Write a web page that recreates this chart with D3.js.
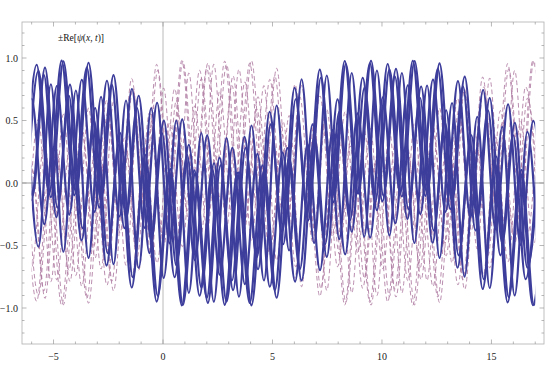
<!DOCTYPE html>
<html><head><meta charset="utf-8">
<script src="https://cdn.jsdelivr.net/npm/d3@7"></script>
<style>body{margin:0;background:#fff}svg{display:block}</style>
</head><body><svg id="c" width="545" height="381"></svg>
<script>
const xMajorTicks = [-5, 0, 5, 10, 15];
const xTickLabels = ["\u22125", "0", "5", "10", "15"];
const yMajorTicks = [-1.0, -0.5, 0.0, 0.5, 1.0];
const yTickLabels = ["\u22121.0", "\u22120.5", "0.0", "0.5", "1.0"];
const plotLabel = "Re";

// Solid (+Re) curves: x of each successive peak / trough, and its value
const xA = [-6.34,-5.77,-5.2,-4.63,-4.05,-3.48,-2.91,-2.34,-1.76,-1.19,-0.62,-0.05,0.53,1.1,1.67,2.25,2.82,3.39,3.96,4.54,5.11,5.68,6.25,6.83,7.4,7.97,8.54,9.12,9.69,10.26,10.83,11.41,11.98,12.55,13.12,13.7,14.27,14.84,15.41,15.99,16.56,17.13];
const yA = [-0.163,0.946,-0.086,0.979,-0.098,0.923,-0.197,0.787,-0.362,0.600,-0.561,0.399,-0.754,0.224,-0.902,0.111,-0.975,0.081,-0.959,0.142,-0.857,0.280,-0.690,0.469,-0.490,0.670,-0.298,0.842,-0.153,0.952,-0.084,0.978,-0.103,0.913,-0.209,0.772,-0.380,0.582,-0.579,0.382,-0.769,0.212];
const xF = [-6.26,-5.69,-5.12,-4.55,-3.97,-3.4,-2.83,-2.26,-1.68,-1.11,-0.54,0.04,0.61,1.18,1.75,2.33,2.9,3.47,4.04,4.62,5.19,5.76,6.33,6.91,7.48,8.05,8.62,9.2,9.77,10.34,10.91,11.49,12.06,12.63,13.2,13.78,14.35,14.92,15.49,16.07,16.64,17.21];
const yF = [-0.231,0.897,-0.114,0.974,-0.081,0.962,-0.137,0.863,-0.273,0.698,-0.460,0.499,-0.661,0.306,-0.836,0.158,-0.949,0.085,-0.979,0.101,-0.918,0.203,-0.780,0.370,-0.591,0.570,-0.390,0.762,-0.218,0.907,-0.108,0.976,-0.082,0.957,-0.147,0.851,-0.288,0.680,-0.478,0.481,-0.678,0.291];
const xC = [-6.59,-6.01,-5.44,-4.87,-4.3,-3.72,-3.15,-2.58,-2.01,-1.43,-0.86,-0.29,0.29,0.86,1.43,2.0,2.58,3.15,3.72,4.29,4.87,5.44,6.01,6.58,7.16,7.73,8.3,8.87,9.45,10.02,10.59,11.16,11.74,12.31,12.88,13.45,14.03,14.6,15.17,15.74,16.32,16.89,17.46];
const yC = [0.962,-0.137,0.863,-0.273,0.698,-0.460,0.499,-0.661,0.306,-0.836,0.158,-0.949,0.085,-0.979,0.101,-0.918,0.203,-0.780,0.370,-0.591,0.570,-0.390,0.762,-0.218,0.907,-0.108,0.976,-0.082,0.957,-0.147,0.851,-0.288,0.680,-0.478,0.481,-0.678,0.291,-0.848,0.148,-0.955,0.083,-0.977,0.107];
const xE = [-6.54,-5.96,-5.39,-4.82,-4.25,-3.67,-3.1,-2.53,-1.96,-1.38,-0.81,-0.24,0.34,0.91,1.48,2.05,2.63,3.2,3.77,4.34,4.92,5.49,6.06,6.63,7.21,7.78,8.35,8.92,9.5,10.07,10.64,11.21,11.79,12.36,12.93,13.5,14.08,14.65,15.22,15.79,16.37,16.94,17.51];
const yE = [0.979,-0.098,0.923,-0.197,0.787,-0.362,0.600,-0.561,0.399,-0.754,0.224,-0.902,0.111,-0.975,0.081,-0.959,0.142,-0.857,0.280,-0.690,0.469,-0.490,0.670,-0.298,0.842,-0.153,0.952,-0.084,0.978,-0.103,0.913,-0.209,0.772,-0.380,0.582,-0.579,0.382,-0.769,0.212,-0.912,0.105,-0.977,0.083];
const xB = [-6.27,-5.69,-5.12,-4.55,-3.98,-3.4,-2.83,-2.26,-1.69,-1.11,-0.54,0.03,0.61,1.18,1.75,2.32,2.9,3.47,4.04,4.61,5.19,5.76,6.33,6.9,7.48,8.05,8.62,9.19,9.77,10.34,10.91,11.48,12.06,12.63,13.2,13.77,14.35,14.92,15.49,16.06,16.64,17.21];
const yB = [0.82,-0.51,0.79,-0.55,0.74,-0.60,0.69,-0.65,0.66,-0.68,0.60,-0.76,0.50,-0.88,0.40,-0.95,0.36,-0.91,0.46,-0.78,0.62,-0.54,0.83,-0.48,0.86,-0.45,0.88,-0.43,0.90,-0.42,0.88,-0.48,0.78,-0.60,0.64,-0.75,0.53,-0.84,0.45,-0.90,0.41,-0.91];
const xD = [-6.57,-6.0,-5.42,-4.85,-4.28,-3.71,-3.13,-2.56,-1.99,-1.42,-0.84,-0.27,0.3,0.88,1.45,2.02,2.59,3.17,3.74,4.31,4.88,5.46,6.03,6.6,7.17,7.75,8.32,8.89,9.46,10.04,10.61,11.18,11.75,12.33,12.9,13.47,14.04,14.62,15.19,15.76,16.33,16.91,17.48];
const yD = [-0.449,0.674,-0.331,0.775,-0.253,0.826,-0.231,0.818,-0.268,0.752,-0.359,0.642,-0.483,0.509,-0.617,0.381,-0.734,0.282,-0.809,0.233,-0.829,0.244,-0.789,0.312,-0.697,0.423,-0.571,0.557,-0.437,0.685,-0.322,0.781,-0.249,0.827,-0.231,0.815,-0.275,0.744,-0.369,0.630,-0.495,0.497,-0.629];

const xDataRange = [-6, 17];

const curves = [[xD,yD],[xB,yB],[xC,yC],[xE,yE],[xF,yF],[xA,yA]].map(([xs,ys]) => {
  const n = Math.min(xs.length, ys.length);
  return d3.range(n).map(i => ({x: xs[i], y: ys[i]}));
});

const svg = d3.select("#c");
const L = 22, R = 544, T = 22, B = 344;
const x = d3.scaleLinear().domain([-6.44, 17.4]).range([L, R]);
const y = d3.scaleLinear().domain([-1.288, 1.288]).range([B, T]);

svg.append("defs").append("clipPath").attr("id","clip")
  .append("rect").attr("x", x(xDataRange[0])).attr("y", T)
  .attr("width", x(xDataRange[1]) - x(xDataRange[0])).attr("height", B - T);

svg.append("line").attr("x1", x(0)).attr("x2", x(0)).attr("y1", T).attr("y2", B)
  .attr("stroke", "#a8a8a8").attr("stroke-width", 0.8);
svg.append("line").attr("x1", L).attr("x2", R).attr("y1", y(0)).attr("y2", y(0))
  .attr("stroke", "#808080").attr("stroke-width", 0.8);

const line = d3.line().x(d => x(d.x)).y(d => y(d.y)).curve(d3.curveMonotoneX);
const gC = svg.append("g").attr("clip-path", "url(#clip)");

gC.selectAll("path.neg").data(curves).join("path").attr("class","neg")
  .attr("d", c => line(c.map(p => ({x: p.x, y: -p.y}))))
  .attr("fill","none").attr("stroke","#ad7aa0").attr("stroke-width",0.85)
  .attr("stroke-dasharray","4.5,3");
gC.selectAll("path.pos").data(curves).join("path").attr("class","pos")
  .attr("d", c => line(c))
  .attr("fill","none").attr("stroke","#3d3d9c").attr("stroke-width",2.2)
  .attr("stroke-linejoin","round");

svg.append("rect").attr("x", L).attr("y", T).attr("width", R-L).attr("height", B-T)
  .attr("fill","none").attr("stroke","#b0b0b0").attr("stroke-width",0.8);

const xMinor = d3.range(-6, 18, 1).filter(v => !xMajorTicks.includes(v));
const yMinor = d3.range(-12, 13, 1).map(v => v/10).filter(v => !yMajorTicks.some(m => Math.abs(m - v) < 1e-9));
const tg = svg.append("g").attr("stroke", "#999").attr("stroke-width", 0.7);
function xt(v, len){
  tg.append("line").attr("x1",x(v)).attr("x2",x(v)).attr("y1",B).attr("y2",B-len);
  tg.append("line").attr("x1",x(v)).attr("x2",x(v)).attr("y1",T).attr("y2",T+len);
}
function yt(v, len){
  tg.append("line").attr("y1",y(v)).attr("y2",y(v)).attr("x1",L).attr("x2",L+len);
  tg.append("line").attr("y1",y(v)).attr("y2",y(v)).attr("x1",R).attr("x2",R-len);
}
xMajorTicks.forEach(v => xt(v, 4.5)); xMinor.forEach(v => xt(v, 2.5));
yMajorTicks.forEach(v => yt(v, 4.5)); yMinor.forEach(v => yt(v, 2.5));

const font = "'Liberation Serif', 'DejaVu Serif', serif";
svg.append("g").selectAll("text").data(xMajorTicks).join("text")
  .attr("x", d => x(d)).attr("y", B + 16).attr("text-anchor","middle")
  .attr("font-family", font).attr("font-size", 10).attr("fill","#222")
  .text((d,i) => xTickLabels[i]);
svg.append("g").selectAll("text").data(yMajorTicks).join("text")
  .attr("x", L - 4).attr("y", d => y(d) + 3.5).attr("text-anchor","end")
  .attr("font-family", font).attr("font-size", 10).attr("fill","#222")
  .text((d,i) => yTickLabels[i]);

const lab = svg.append("text").attr("x", 58).attr("y", 41)
  .attr("font-family", font).attr("font-size", 9.5).attr("fill","#111");
lab.append("tspan").text("\u00b1" + plotLabel + "[");
lab.append("tspan").attr("font-style","italic").text("\u03c8");
lab.append("tspan").text("(");
lab.append("tspan").attr("font-style","italic").text("x");
lab.append("tspan").text(", ");
lab.append("tspan").attr("font-style","italic").text("t");
lab.append("tspan").text(")]");
</script></body></html>
